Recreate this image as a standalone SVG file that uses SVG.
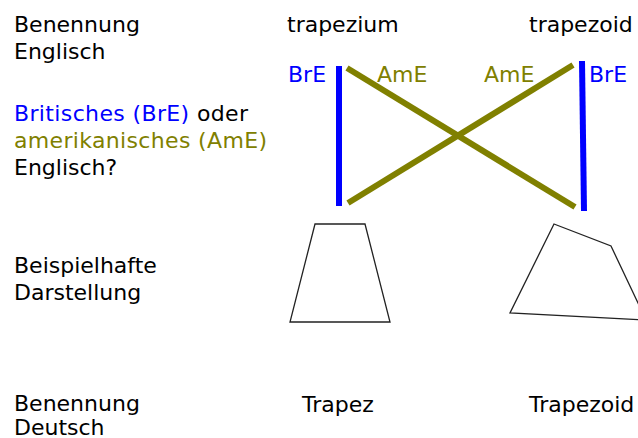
<svg xmlns="http://www.w3.org/2000/svg" width="638" height="438" viewBox="0 0 638 438">
  <style>
    text { font-family: "DejaVu Sans", "Liberation Sans", sans-serif; font-size: 22px; fill: #000; }
    .bre { fill: #0000ff; }
    .ame { fill: #808000; }
    .shape { fill: none; stroke: #222; stroke-width: 1.3; stroke-linejoin: miter; }
    .link-bre { stroke: #0000ff; stroke-width: 6; }
    .link-ame { stroke: #808000; stroke-width: 6; }
  </style>
  <rect width="638" height="438" fill="#fff"/>

  <!-- row labels -->
  <g id="row-english">
    <text x="14" y="32">Benennung</text>
    <text x="14" y="59">Englisch</text>
  </g>
  <g id="row-question">
    <text x="14" y="121" textLength="234" lengthAdjust="spacing"><tspan class="bre">Britisches (BrE)</tspan> oder</text>
    <text x="14" y="148" class="ame" textLength="253" lengthAdjust="spacing">amerikanisches (AmE)</text>
    <text x="14" y="175">Englisch?</text>
  </g>
  <g id="row-example">
    <text x="14" y="273">Beispielhafte</text>
    <text x="14" y="300">Darstellung</text>
  </g>
  <g id="row-german">
    <text x="14" y="411">Benennung</text>
    <text x="14" y="435">Deutsch</text>
  </g>

  <!-- English terms -->
  <g id="term-trapezium"><text x="287" y="32">trapezium</text></g>
  <g id="term-trapezoid"><text x="529" y="32">trapezoid</text></g>

  <!-- example shapes -->
  <g id="shape-trapez"><polygon class="shape" points="315,224 365,224 390,322 290,322"/></g>
  <g id="shape-trapezoid"><polygon class="shape" points="554,224 611,246 646,320 510,313"/></g>

  <!-- German terms -->
  <g id="term-trapez"><text x="302" y="412">Trapez</text></g>
  <g id="term-trapezoid-de"><text x="529" y="412">Trapezoid</text></g>

  <!-- connectors -->
  <g id="connectors">
    <line class="link-bre" x1="339" y1="66" x2="339" y2="206"/>
    <line class="link-bre" x1="582" y1="61" x2="584" y2="211"/>
    <line class="link-ame" x1="347" y1="68" x2="575" y2="207"/>
    <line class="link-ame" x1="348" y1="203" x2="573" y2="65"/>
    <text class="bre" x="288" y="82">BrE</text>
    <text class="ame" x="377" y="82">AmE</text>
    <text class="ame" x="484" y="82">AmE</text>
    <text class="bre" x="589" y="82">BrE</text>
  </g>
</svg>
